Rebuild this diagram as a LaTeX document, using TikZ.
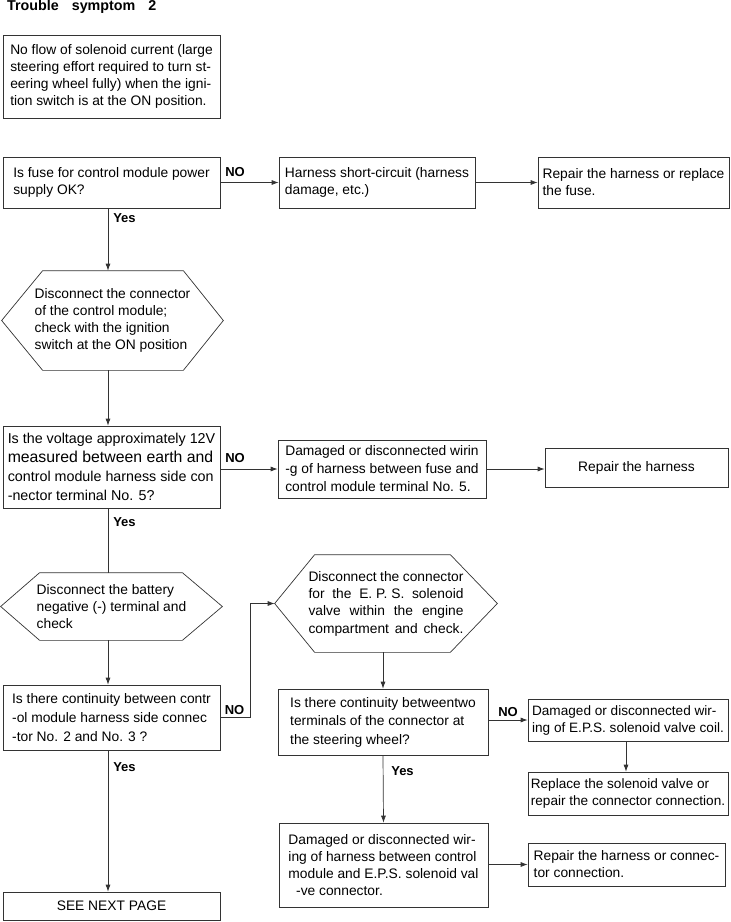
\documentclass[tikz,border=0pt]{standalone}
\usepackage{fontspec}
\setmainfont{Liberation Sans}
\usetikzlibrary{arrows.meta,calc}
\begin{document}
\begin{tikzpicture}[x=1pt,y=-1pt,
  ln/.style={draw=black!80, line width=0.7pt},
  arr/.style={ln, -{Latex[length=7pt,width=5pt]}},
  box/.style={draw=black!80, line width=0.7pt, align=left, inner sep=0pt,
    font=\fontsize{13.8}{17}\selectfont},
  hex/.style={box, draw=none},
  lbl/.style={font=\bfseries\fontsize{13}{15}\selectfont, inner sep=0pt}]
\useasboundingbox (0,0) rectangle (731,922);

\node[lbl, anchor=west, font=\bfseries\fontsize{14.3}{16}\selectfont] (title) at (7,7)
  {Trouble\hspace{13pt}symptom\hspace{13pt}2};

\node[box, minimum width=217pt, minimum height=83pt] (b1) at (111.5,76.5)
  {No flow of solenoid current (large\\steering effort required to turn st-\\eering wheel fully) when the igni-\\tion switch is at the ON position.};

\node[box, minimum width=217pt, minimum height=51pt] (b2) at (111.5,182.5)
  {Is fuse for control module power\\supply OK?\hspace{80pt}};
\node[box, minimum width=196pt, minimum height=51pt] (b3) at (377,182.5)
  {Harness short-circuit (harness\\damage, etc.)\hspace{90pt}};
\node[box, minimum width=191pt, minimum height=51pt] (b4) at (633.5,182.5)
  {Repair the harness or replace\\the fuse.\hspace{120pt}};

\node[hex, minimum width=221pt, minimum height=99pt] (h1) at (112.5,320.5)
  {Disconnect the connector\\of the control module;\\check with the ignition\\switch at the ON position};
\draw[ln] (h1.west) -- ($(h1.north west)+(41,0)$) -- ($(h1.north east)+(-40,0)$)
  -- (h1.east) -- ($(h1.south east)+(-40,0)$) -- ($(h1.south west)+(41,0)$) -- cycle;

\node[box, minimum width=217pt, minimum height=82pt, font=\fontsize{14.3}{19}\selectfont] (b5) at (111.5,467)
  {Is the voltage approximately 12V\\{\fontsize{15.8}{19}\selectfont measured between earth and}\\control module harness side con\\-nector terminal No. 5?};
\node[box, minimum width=208pt, minimum height=58pt, font=\fontsize{13.8}{18}\selectfont] (b6) at (382,469)
  {Damaged or disconnected wirin\\-g of harness between fuse and\\control module terminal No. 5.};
\node[box, minimum width=183pt, minimum height=39pt] (b7) at (636.5,467.5)
  {Repair the harness};

\node[hex, minimum width=221pt, minimum height=67pt] (h2) at (111.5,606.5)
  {Disconnect the battery\hspace{30pt}\\negative (-) terminal and\\check};
\draw[ln] (h2.west) -- ($(h2.north west)+(39,0)$) -- ($(h2.north east)+(-40,0)$)
  -- (h2.east) -- ($(h2.south east)+(-40,0)$) -- ($(h2.south west)+(39,0)$) -- cycle;

\node[box, minimum width=217pt, minimum height=65pt, font=\fontsize{13.8}{19}\selectfont] (b8) at (111.5,717.5)
  {Is there continuity between contr\\-ol module harness side connec\\-tor No. 2 and No. 3 ?};

\node[hex, minimum width=222pt, minimum height=97pt, font=\fontsize{13.8}{17.3}\selectfont] (h3) at (386,603.5)
  {\makebox[155pt][s]{Disconnect the connector}\\\makebox[155pt][s]{for\ \ the\ \ E. P. S.\ \ solenoid}\\\makebox[155pt][s]{valve within the engine}\\\makebox[155pt][s]{compartment and check.}};
\draw[ln] (h3.west) -- ($(h3.north west)+(40,0)$) -- ($(h3.north east)+(-47,0)$)
  -- (h3.east) -- ($(h3.south east)+(-47,0)$) -- ($(h3.south west)+(40,0)$) -- cycle;

\node[box, minimum width=210pt, minimum height=66pt, font=\fontsize{13.8}{18.5}\selectfont] (b9) at (383,722)
  {Is there continuity betweentwo\\terminals of the connector at\\the steering wheel?};
\node[box, minimum width=200pt, minimum height=42pt, font=\fontsize{13.6}{17}\selectfont] (b10) at (628,720)
  {Damaged or disconnected wir-\\ing of E.P.S. solenoid valve coil.};
\node[box, minimum width=200pt, minimum height=43pt, font=\fontsize{13.6}{17}\selectfont] (b11) at (628,793.5)
  {Replace the solenoid valve or\hspace{30pt}\\repair the connector connection.};
\node[box, minimum width=209pt, minimum height=84pt] (b12) at (383.5,865)
  {Damaged or disconnected wir-\\ing of harness between control\\module and E.P.S. solenoid val\\\ \ -ve connector.};
\node[box, minimum width=197pt, minimum height=43pt] (b13) at (626.5,864.5)
  {Repair the harness or connec-\\tor connection.};
\node[box, minimum width=217pt, minimum height=28pt] (b14) at (111.5,906)
  {SEE NEXT PAGE};

% labels
\node[lbl] (no1) at (235,172) {NO};
\node[lbl] (yes1) at (124.5,218) {Yes};
\node[lbl] (no2) at (235,458) {NO};
\node[lbl] (yes2) at (124.5,522) {Yes};
\node[lbl] (no3) at (234.5,710) {NO};
\node[lbl] (yes3) at (124.5,767) {Yes};
\node[lbl] (no4) at (508,712) {NO};
\node[lbl] (yes4) at (402.5,771) {Yes};

% connectors
\draw[arr] (b2.east) -- (b3.west);
\draw[arr] (b3.east) -- (b4.west);
\draw[arr] ([xshift=-3.5pt]b2.south) -- ([xshift=-3.5pt]b2.south |- h1.north);
\draw[arr] ([xshift=-4.5pt]h1.south) -- ([xshift=-4.5pt]h1.south |- b5.north);
\draw[arr] (b5.east |- b6.west) -- (b6.west);
\draw[arr] (b6.east) -- (b6.east -| b7.west);
\draw[ln] ([xshift=-3.5pt]b5.south) -- ([xshift=-3.5pt]b5.south |- h2.north);
\draw[arr] ([xshift=-3.5pt]h2.south) -- ([xshift=-3.5pt]h2.south |- b8.north);
\draw[arr] (b8.east) -- ++(30,0) |- (h3.west);
\draw[arr] (h3.south -| b9.north) -- (b9.north);
\draw[arr] (b9.east |- b10.west) -- (b10.west);
\draw[arr] ([xshift=-2pt]b10.south) -- ([xshift=-2pt]b11.north);
\draw[arr] (b9.south) -- (b12.north);
\draw[arr] (b12.east |- b13.west) -- (b13.west);
\draw[arr] ([xshift=-3.5pt]b8.south) -- ([xshift=-3.5pt]b14.north);
\end{tikzpicture}
\end{document}
